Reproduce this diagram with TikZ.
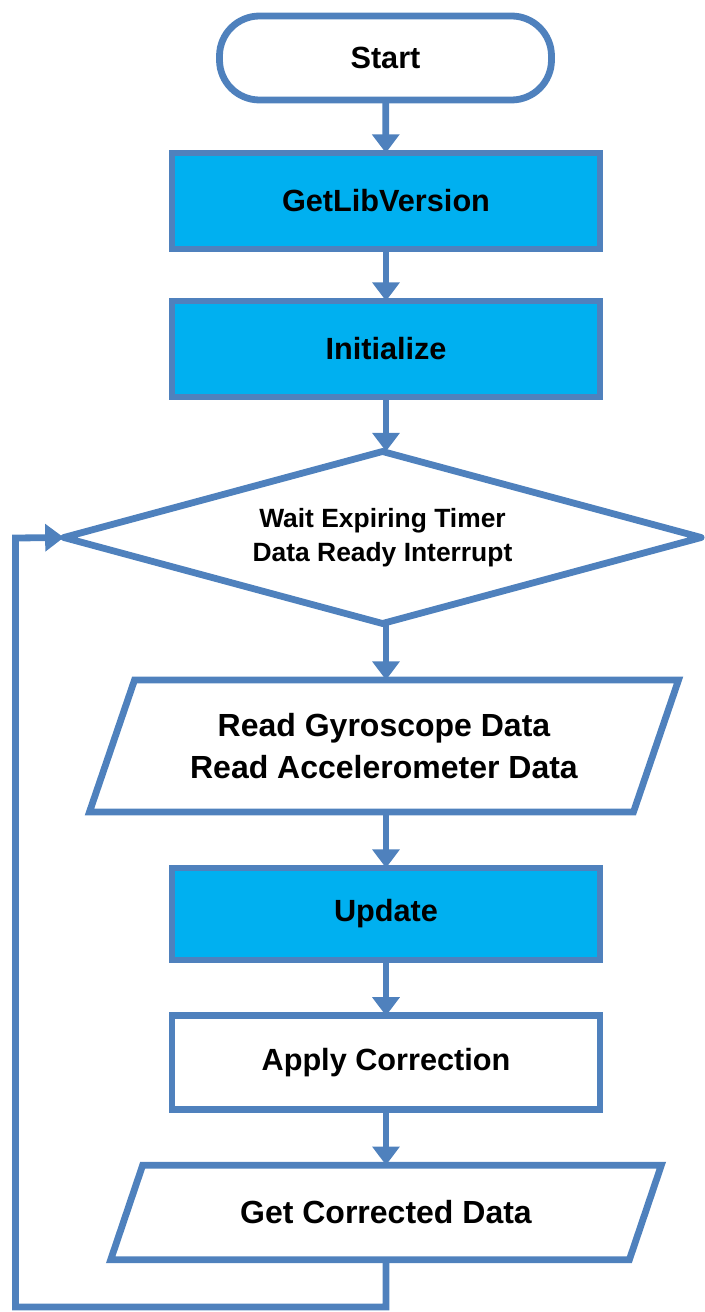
\documentclass[tikz,border=0pt]{standalone}
\usepackage{fontspec}
\setmainfont{Liberation Sans}
\usetikzlibrary{arrows.meta,shapes.geometric}
\definecolor{bord}{RGB}{79,129,189}
\definecolor{cyanfill}{RGB}{0,176,240}
\begin{document}
\begin{tikzpicture}[x=0.75pt,y=-0.75pt,
  lw/.style={line width=5.1pt, draw=bord},
  txt/.style={font=\bfseries\fontsize{23}{31.5}\selectfont, align=center, inner sep=0pt, outer sep=0pt},
  iotxt/.style={font=\bfseries\fontsize{24}{31.5}\selectfont, align=center, inner sep=0pt, outer sep=0pt},
  term/.style={lw, txt, fill=white, rounded corners=30pt, minimum width=249pt, minimum height=63pt},
  procbox/.style={lw, txt, fill=cyanfill, minimum width=321pt, minimum height=72pt},
  plainbox/.style={lw, txt, fill=white, minimum width=321pt, minimum height=70pt},
  decision/.style={lw, diamond, line join=round, aspect=3.7, minimum width=478pt, minimum height=129pt,
    inner sep=0pt, outer sep=0pt, align=center, font=\bfseries\fontsize{19.8}{25.5}\selectfont},
  iobox/.style={iotxt, draw=none},
  flow/.style={lw, -{Triangle[width=20pt,length=14pt]}}
]
\useasboundingbox (0,0) rectangle (705,1312);

\node[term] (start) at (385.5,58) {Start};
\node[procbox] (getlib) at (386,201) {GetLibVersion};
\node[procbox] (init) at (386,349) {Initialize};
\node[decision] (dec) at (382.5,537.5) {Wait Expiring Timer\\Data Ready Interrupt};
\node[iobox, minimum width=408pt, minimum height=99pt] (read) at (384,746) {Read Gyroscope Data\\Read Accelerometer Data};
\draw[lw] ([xshift=16.9pt]read.north west) -- ([xshift=16.9pt]read.north east)
  -- ([xshift=-16.9pt]read.south east) -- ([xshift=-16.9pt]read.south west) -- cycle;
\node[procbox, minimum height=69pt] (update) at (386,914) {Update};
\node[plainbox] (apply) at (386,1062.5) {Apply Correction};
\node[iobox, minimum width=389pt, minimum height=71pt] (get) at (386,1212.5) {Get Corrected Data};
\draw[lw] ([xshift=12pt]get.north west) -- ([xshift=12pt]get.north east)
  -- ([xshift=-12pt]get.south east) -- ([xshift=-12pt]get.south west) -- cycle;

\coordinate (lb) at (15.5,1307);
\coordinate (lt) at (15.5,538);

\draw[flow] (start) -- (getlib);
\draw[flow] (getlib) -- (init);
\draw[flow] (init.south) -- (init.south |- dec.north);
\draw[flow] (init.south |- dec.south) -- (read.north -| init.south);
\draw[flow] (read.south) -- (read.south -| update.north) -- (update.north);
\draw[flow] (update) -- (apply);
\draw[flow] (apply) -- (apply.south |- get.north);
\draw[flow] (get.south -| apply.south) -- (apply.south |- lb) -- (lb) -- (lt) -- (dec.west);
\end{tikzpicture}
\end{document}
